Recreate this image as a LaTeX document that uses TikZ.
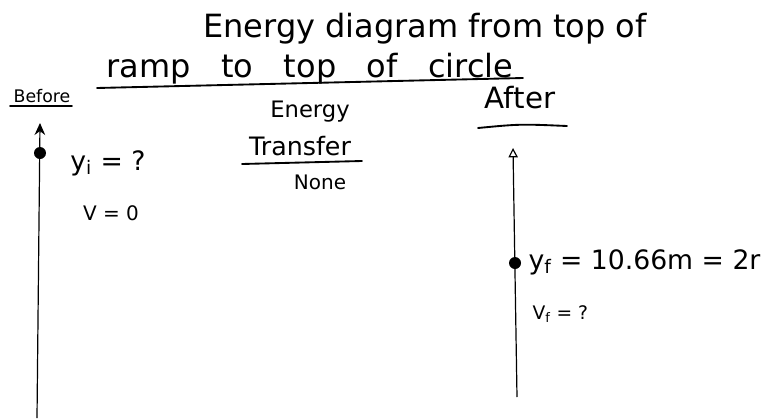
\documentclass[tikz,border=0pt]{standalone}
\usepackage{fontspec}
\setmainfont{DejaVu Sans}
\usetikzlibrary{arrows.meta}

\tikzset{
    hand/.style={inner sep=1pt},
    uline/.style={line width=1.4pt, line cap=round},
    axis/.style={line width=0.9pt},
    ball/.style={circle, fill=black, inner sep=0pt, minimum size=9pt}
}

\begin{document}
\begin{tikzpicture}[x=0.75pt, y=-0.75pt]
    \useasboundingbox (0,0) rectangle (775,418);

    % heading
    \node[hand, font=\fontsize{24}{28}\selectfont] (title1) at (425,29) {Energy diagram from top of};
    \node[hand, font=\fontsize{24}{28}\selectfont] (title2) at (310,69) {ramp\ \ \ to\ \ \ top\ \ \ of\ \ \ circle};
    \draw[uline] (97,88) -- (523,78);

    % column heads
    \node[hand, font=\fontsize{13}{15}\selectfont] (before) at (42,96) {Before};
    \draw[uline] (10,106) -- (72,106);

    \node[hand, font=\fontsize{17}{20}\selectfont] (energy) at (310,112) {Energy};
    \node[hand, font=\fontsize{19}{22}\selectfont] (transfer) at (300,146) {Transfer};
    \draw[uline] (242,164) -- (362,161);
    \node[hand, font=\fontsize{15}{18}\selectfont] (none) at (320,182) {None};

    \node[hand, font=\fontsize{22}{26}\selectfont] (after) at (520,98) {After};
    \draw[uline] (478,128) .. controls (520,124) .. (567,126);

    % before axis
    \coordinate (ibot) at (37,418);
    \coordinate (itop) at (40,123);
    \draw[axis, -{Stealth[length=9pt, width=8pt]}] (ibot) -- (itop);
    \node[ball] (idot) at (40,153) {};
    \node[hand, font=\fontsize{20}{24}\selectfont] (yi) at (108,163) {y\textsubscript{i} = ?};
    \node[hand, font=\fontsize{15}{18}\selectfont] (vi) at (111,213) {V = 0};

    % after axis
    \coordinate (fbot) at (517,397);
    \coordinate (ftop) at (513,148);
    \draw[axis, -{Triangle[open, length=7pt, width=7pt]}] (fbot) -- (ftop);
    \node[ball] (fdot) at (515,263) {};
    \node[hand, anchor=west, font=\fontsize{20}{24}\selectfont] (yf) at (527,262) {y\textsubscript{f} = 10.66m = 2r};
    \node[hand, anchor=west, font=\fontsize{14}{17}\selectfont] (vf) at (531,314) {V\textsubscript{f} = ?};
\end{tikzpicture}
\end{document}
